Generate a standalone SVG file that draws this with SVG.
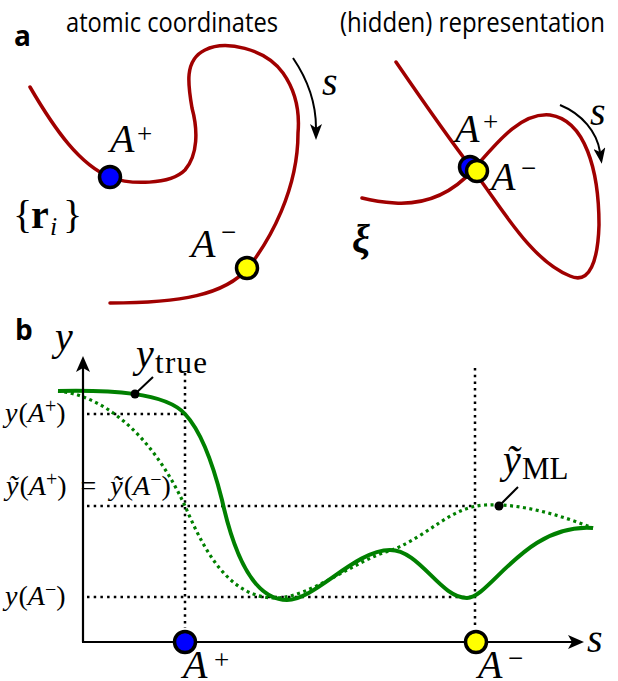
<svg xmlns="http://www.w3.org/2000/svg" width="618" height="681" viewBox="0 0 618 681">
<style>
.red{fill:none;stroke:#a00000;stroke-width:3.5;stroke-linecap:round}
.g{fill:none;stroke:#008000;stroke-width:4}
.gd{fill:none;stroke:#008000;stroke-width:3.2;stroke-dasharray:3 3.5}
.kd{fill:none;stroke:#000;stroke-width:2.5;stroke-dasharray:2.5 4.2}
.ax{stroke:#000;stroke-width:2.2;fill:none}
.arr{stroke:#000;stroke-width:2;fill:none}
.m{font-family:"Liberation Serif","DejaVu Serif",serif;font-style:italic;fill:#000}
.rm{font-family:"Liberation Serif","DejaVu Serif",serif;font-style:normal;fill:#000}
.h{font-family:"Open Sans",sans-serif;font-size:28px;fill:#000}
.lbl{font-family:"Open Sans",sans-serif;font-weight:700;font-size:28px;fill:#000}
.dB{fill:#0000ff;stroke:#000;stroke-width:3.5}
.dY{fill:#ffff00;stroke:#000;stroke-width:3.5}
.big{font-size:40px}
.sup{font-size:27px}
.lab{font-size:28px}
.lsup{font-size:20px}
</style>
<defs>
<marker id="st" viewBox="0 0 16 12" markerWidth="16" markerHeight="12" refX="4" refY="6" orient="auto" markerUnits="userSpaceOnUse">
<path d="M0,0 L16,6 L0,12 L4,6 z" fill="#000"/>
</marker>
<marker id="ah" viewBox="0 0 16 14" markerWidth="16" markerHeight="14" refX="4" refY="7" orient="auto" markerUnits="userSpaceOnUse">
<path d="M0,0 L16,7 L0,14 L4,7 z" fill="#000"/>
</marker>
</defs>

<!-- panel a -->
<text class="lbl" x="14" y="46">a</text>
<text class="h" x="66" y="32" textLength="212" lengthAdjust="spacingAndGlyphs">atomic coordinates</text>
<text class="h" x="340" y="32" textLength="265" lengthAdjust="spacingAndGlyphs">(hidden) representation</text>

<g id="curve-atomic">
<path class="red" d="M30,87 C55,130 80,165 110,177 C130,185 170,185 185,170 C198,155 198,130 192,108 C188,85 184,60 205,50 C225,40 265,48 283,73 C295,90 300,110 298,133 C298,190 270,240 248,268 C225,295 180,303 110,303"/>
</g>
<g id="curve-hidden">
<path class="red" d="M396,62 C420,97 450,140 473,170 C500,205 530,260 570,276 C590,285 598,260 599,225 C599,170 585,120 550,115 C520,112 495,145 473,170 C455,190 430,205 395,203 C380,202 370,200 362,198"/>
</g>

<g id="connectors">
<path class="arr" d="M293,58 C308,80 316,105 316,128" marker-end="url(#st)"/>
<path class="arr" d="M560,105 C582,114 597,132 600,152" marker-end="url(#st)"/>
</g>

<g id="node-Aplus-atomic">
<circle class="dB" cx="110" cy="177" r="10.5"/>
<text class="m big" x="110" y="152">A</text>
<text class="rm sup" x="137" y="143">+</text>
</g>
<g id="node-Aminus-atomic">
<circle class="dY" cx="247" cy="268" r="10.5"/>
<text class="m big" x="191" y="257">A</text>
<text class="rm sup" x="221" y="241">−</text>
</g>
<g id="node-A-hidden">
<circle class="dB" cx="470" cy="167" r="10.5"/>
<circle class="dY" cx="477" cy="171" r="10.5"/>
<text class="m big" x="455" y="142">A</text>
<text class="rm sup" x="483" y="131">+</text>
<text class="m big" x="491" y="190">A</text>
<text class="rm sup" x="521" y="177">−</text>
</g>

<text class="m big" x="322" y="95">s</text>
<text class="m big" x="590" y="125">s</text>
<text class="rm" font-size="40" x="13" y="228">{<tspan font-weight="700" x="31">r</tspan><tspan class="m" font-size="26" x="50" y="235">i</tspan><tspan x="63" y="228">}</tspan></text>
<text class="m big" font-weight="700" x="352" y="252" font-family="DejaVu Serif">ξ</text>

<!-- panel b -->
<text class="lbl" x="15" y="340">b</text>

<g id="guides">
<path class="kd" d="M185,373 V628"/>
<path class="kd" d="M475,368 V628"/>
<path class="kd" d="M87,414 H185"/>
<path class="kd" d="M87,506 H475"/>
<path class="kd" d="M87,597 H475"/>
</g>

<g id="y-ml">
<path class="gd" d="M58,391 C100,395 150,430 185,506 C200,540 225,598 275,598 C310,598 355,560 392,550 C430,535 450,507 485,505 C520,503 560,515 593,528"/>
</g>
<g id="y-true">
<path class="g" d="M58,391 C110,390 165,392 185,414 C200,430 212,460 222,500 C232,545 250,600 287,600 C315,600 355,550 390,550 C420,550 440,598 467,598 C490,598 525,523 593,528"/>
</g>

<g id="axes">
<path class="ax" d="M83,642 V368" marker-end="url(#ah)"/>
<path class="ax" d="M82,642 H572" marker-end="url(#ah)"/>
</g>

<g id="pointers">
<circle cx="135" cy="394" r="4.5" fill="#000"/>
<path d="M135,394 L153,377" stroke="#000" stroke-width="2"/>
<circle cx="499" cy="506" r="4.5" fill="#000"/>
<path d="M499,506 L518,487" stroke="#000" stroke-width="2"/>
</g>

<text class="m big" x="136" y="367">y</text>
<text class="rm" font-size="31" x="155" y="373" textLength="52">true</text>
<text class="m big" x="503" y="473">ỹ</text>
<text class="rm" font-size="31" x="522" y="479">ML</text>

<text class="m big" x="55" y="350">y</text>
<text class="m big" x="587" y="652">s</text>

<g id="ylabels">
<text class="m lab" x="5" y="422">y<tspan class="rm" dx="1">(</tspan><tspan>A</tspan><tspan class="rm lsup" dy="-9">+</tspan><tspan class="rm" dy="9">)</tspan></text>
<text class="m lab" x="6" y="495">ỹ<tspan class="rm" dx="1">(</tspan><tspan>A</tspan><tspan class="rm lsup" dy="-9">+</tspan><tspan class="rm" dy="9">)</tspan><tspan class="rm" dx="14">=</tspan><tspan dx="14">ỹ</tspan><tspan class="rm" dx="1">(</tspan><tspan>A</tspan><tspan class="rm lsup" dy="-9">−</tspan><tspan class="rm" dy="9">)</tspan></text>
<text class="m lab" x="5" y="605">y<tspan class="rm" dx="1">(</tspan><tspan>A</tspan><tspan class="rm lsup" dy="-9">−</tspan><tspan class="rm" dy="9">)</tspan></text>
</g>

<g id="node-Aplus-axis">
<circle class="dB" cx="185" cy="642" r="10.5"/>
<text class="m big" x="183" y="678">A</text>
<text class="rm sup" x="214" y="669">+</text>
</g>
<g id="node-Aminus-axis">
<circle class="dY" cx="476" cy="642" r="10.5"/>
<text class="m big" x="478" y="678">A</text>
<text class="rm sup" x="508" y="667">−</text>
</g>
</svg>
